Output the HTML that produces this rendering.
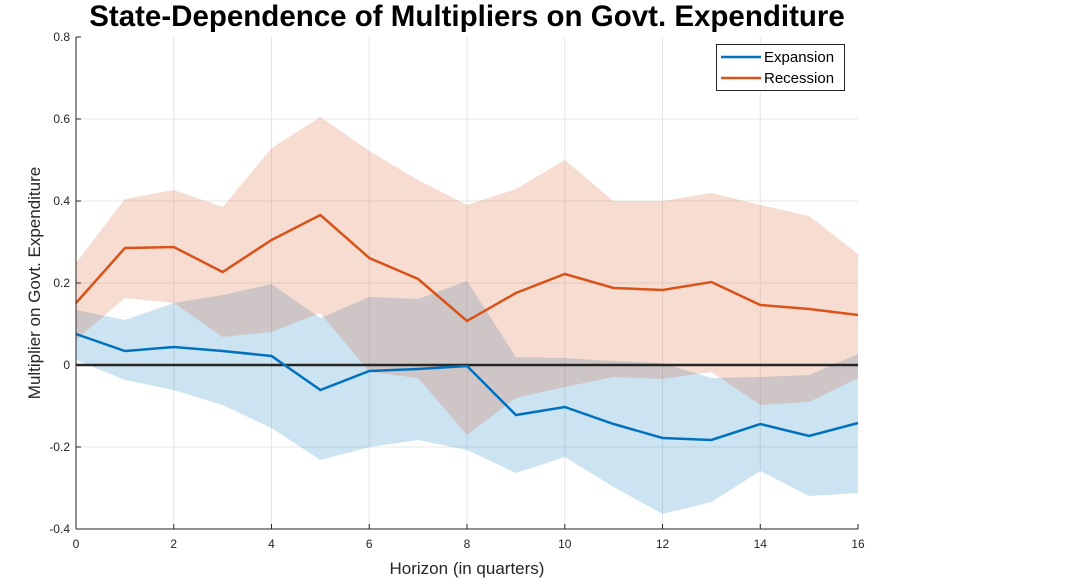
<!DOCTYPE html>
<html><head><meta charset="utf-8"><style>body{margin:0;background:#fff}svg{display:block}text{font-family:"Liberation Sans",Arial,sans-serif}</style></head><body>
<svg width="1069" height="586" viewBox="0 0 1069 586" xmlns="http://www.w3.org/2000/svg">
<rect width="1069" height="586" fill="#fff"/>
<g stroke="#e6e6e6" stroke-width="1">
<line x1="173.75" y1="37" x2="173.75" y2="529"/><line x1="271.5" y1="37" x2="271.5" y2="529"/><line x1="369.25" y1="37" x2="369.25" y2="529"/><line x1="467" y1="37" x2="467" y2="529"/><line x1="564.75" y1="37" x2="564.75" y2="529"/><line x1="662.5" y1="37" x2="662.5" y2="529"/><line x1="760.25" y1="37" x2="760.25" y2="529"/>
<line x1="76" y1="119" x2="858" y2="119"/><line x1="76" y1="201" x2="858" y2="201"/><line x1="76" y1="283" x2="858" y2="283"/><line x1="76" y1="447" x2="858" y2="447"/>
</g>
<polygon fill="rgb(0,114,189)" fill-opacity="0.2" points="76,310 124.9,320 173.8,303 222.6,295 271.5,284 320.4,318 369.3,297 418.1,299 467,281 515.9,357 564.8,358 613.6,361 662.5,363 711.4,378 760.3,377 809.1,375 858,354 858,493 809.1,496 760.3,471 711.4,502 662.5,514 613.6,487 564.8,457 515.9,473 467,450 418.1,440 369.3,447 320.4,460 271.5,428 222.6,405 173.8,390 124.9,380 76,360"/>
<polygon fill="rgb(217,83,25)" fill-opacity="0.2" points="76,263 124.9,199 173.8,190 222.6,207 271.5,148 320.4,117 369.3,151 418.1,180 467,205 515.9,189 564.8,160 613.6,201 662.5,201 711.4,193 760.3,205 809.1,216 858,254 858,378 809.1,402 760.3,405 711.4,372 662.5,379 613.6,377 564.8,387 515.9,398 467,435 418.1,378 369.3,372 320.4,313 271.5,332 222.6,337 173.8,303 124.9,298 76,340"/>
<line x1="76" y1="365" x2="858" y2="365" stroke="#262626" stroke-width="2.5"/>
<polyline fill="none" stroke="#0072bd" stroke-width="2.5" points="76,334 124.9,351 173.8,347 222.6,351 271.5,356 320.4,390 369.3,371 418.1,369 467,366 515.9,415 564.8,407 613.6,424 662.5,438 711.4,440 760.3,424 809.1,436 858,423"/>
<polyline fill="none" stroke="#d95319" stroke-width="2.5" points="76,303 124.9,248 173.8,247 222.6,272 271.5,240 320.4,215 369.3,258 418.1,279 467,321 515.9,293 564.8,274 613.6,288 662.5,290 711.4,282 760.3,305 809.1,309 858,315"/>
<g stroke="#262626" stroke-width="1" fill="none">
<line x1="76" y1="37" x2="76" y2="529"/><line x1="76" y1="529" x2="858" y2="529"/>
</g>
<g stroke="#262626" stroke-width="1">
<line x1="76" y1="37" x2="81" y2="37"/><line x1="76" y1="119" x2="81" y2="119"/><line x1="76" y1="201" x2="81" y2="201"/><line x1="76" y1="283" x2="81" y2="283"/><line x1="76" y1="365" x2="81" y2="365"/><line x1="76" y1="447" x2="81" y2="447"/>
<line x1="173.75" y1="529" x2="173.75" y2="524"/><line x1="271.5" y1="529" x2="271.5" y2="524"/><line x1="369.25" y1="529" x2="369.25" y2="524"/><line x1="467" y1="529" x2="467" y2="524"/><line x1="564.75" y1="529" x2="564.75" y2="524"/><line x1="662.5" y1="529" x2="662.5" y2="524"/><line x1="760.25" y1="529" x2="760.25" y2="524"/><line x1="858" y1="529" x2="858" y2="524"/>
</g>
<g font-size="12" fill="#262626" text-anchor="end">
<text x="70" y="41">0.8</text><text x="70" y="123">0.6</text><text x="70" y="205">0.4</text><text x="70" y="287">0.2</text><text x="70" y="369">0</text><text x="70" y="451">-0.2</text><text x="70" y="533">-0.4</text>
</g>
<g font-size="12" fill="#262626" text-anchor="middle">
<text x="76" y="548">0</text><text x="173.75" y="548">2</text><text x="271.5" y="548">4</text><text x="369.25" y="548">6</text><text x="467" y="548">8</text><text x="564.75" y="548">10</text><text x="662.5" y="548">12</text><text x="760.25" y="548">14</text><text x="858" y="548">16</text>
</g>
<text x="467" y="574" font-size="17" fill="#262626" text-anchor="middle">Horizon (in quarters)</text>
<text transform="translate(40,283) rotate(-90)" font-size="17" fill="#262626" text-anchor="middle">Multiplier on Govt. Expenditure</text>
<text x="467" y="26" font-size="29.5" font-weight="bold" fill="#000" text-anchor="middle">State-Dependence of Multipliers on Govt. Expenditure</text>
<rect x="716.5" y="44.5" width="128" height="46" fill="#fff" stroke="#262626" stroke-width="1"/>
<line x1="721" y1="57" x2="761" y2="57" stroke="#0072bd" stroke-width="2.5"/>
<line x1="721" y1="78" x2="761" y2="78" stroke="#d95319" stroke-width="2.5"/>
<text x="764" y="62" font-size="15" fill="#000">Expansion</text>
<text x="764" y="83" font-size="15" fill="#000">Recession</text>
</svg>
</body></html>
